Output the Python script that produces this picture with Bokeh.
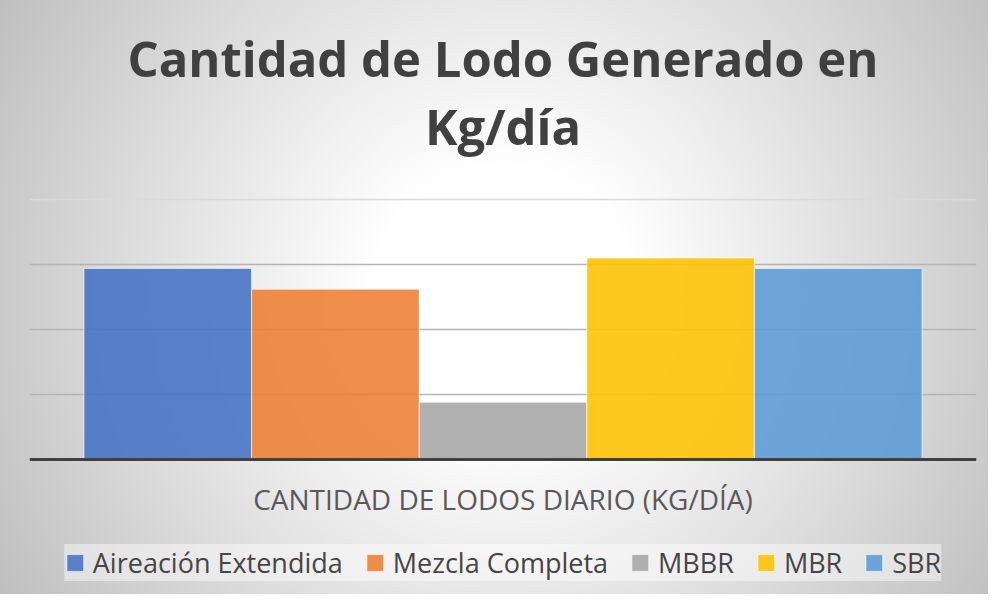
from bokeh.plotting import figure
from bokeh.models import (FactorRange, Range1d, Legend, LegendItem, Grid,
                          FixedTicker, ColumnDataSource, Label, Span)
from bokeh.embed import file_html
from bokeh.resources import INLINE

# ---- data ----
title_line1 = "Cantidad de Lodo Generado en"
title_line2 = "Kg/día"
category_label = "CANTIDAD DE LODOS DIARIO (KG/DÍA)"
technologies = ["Aireación Extendida", "Mezcla Completa", "MBBR", "MBR", "SBR"]
sludge_kg_day = [147, 131, 44, 155, 147]
bar_colors = ["#4472C4", "#ED7D31", "#A5A5A5", "#FFC000", "#5B9BD5"]
grid_ticks = [50, 100, 150]
axis_max = 200

# ---- layout (pixels inside the figure) ----
W, H = 988, 594
TOP_PX, BASE_PX = 199, 459          # top gridline / baseline
unit = (BASE_PX - TOP_PX) / axis_max  # px per kg


def y_at(px):
    return (BASE_PX - px) / unit


source = ColumnDataSource(dict(tech=technologies, val=sludge_kg_day, color=bar_colors))

FONT = "Open Sans"

p = figure(width=W, height=H,
           x_range=FactorRange(factors=technologies, range_padding=0.13),
           y_range=Range1d(y_at(H), y_at(0)),
           x_axis_location=None, y_axis_location=None,
           output_backend="svg", toolbar_location=None,
           min_border_left=29, min_border_right=12,
           min_border_top=0, min_border_bottom=0)
p.title_location = None
p.background_fill_alpha = 0
p.border_fill_alpha = 0
p.outline_line_color = None
p.grid.visible = False
p.styles = {"background": "radial-gradient(circle farthest-corner at 51% 50%, #ffffff 0%, #ffffff 22%, #bfbfbf 100%)"}

center_x = len(technologies) / 2.0

# titles
for txt, pos in ((title_line1, 57), (title_line2, 125)):
    p.add_layout(Label(x=center_x, y=y_at(pos), text=txt, text_align="center",
                       text_baseline="alphabetic", text_font=FONT,
                       text_font_size="49px", text_font_style="bold",
                       text_color="#404040"))

# grids
p.add_layout(Grid(dimension=1, ticker=FixedTicker(ticks=grid_ticks),
                  grid_line_color="#b4b4b4", grid_line_width=1.5))
p.add_layout(Grid(dimension=1, ticker=FixedTicker(ticks=[axis_max]),
                  grid_line_color="#dadada", grid_line_width=1.5))

# bars
r = p.vbar(x="tech", top="val", bottom=0, width=1.0, source=source,
           fill_color="color", fill_alpha=0.88,
           line_color="white", line_alpha=0.6, line_width=1)

# baseline (category axis line)
p.add_layout(Span(location=0, dimension="width", line_color="#404040", line_width=3))

# category label
p.add_layout(Label(x=center_x, y=y_at(498), text=category_label, text_align="center",
                   text_baseline="alphabetic", text_font=FONT,
                   text_font_size="28px", text_color="#595959"))

# legend
legend = Legend(items=[LegendItem(label=dict(field="tech"), renderers=[r])],
                orientation="horizontal", location="bottom_center",
                label_text_font=FONT, label_text_font_size="27px",
                label_text_color="#454545",
                glyph_width=21, glyph_height=21, label_standoff=8,
                spacing=21, padding=16, margin=13,
                background_fill_color="white", background_fill_alpha=0.45,
                border_line_color=None)
p.add_layout(legend, "center")

open("out.html", "w").write(file_html(p, INLINE))
